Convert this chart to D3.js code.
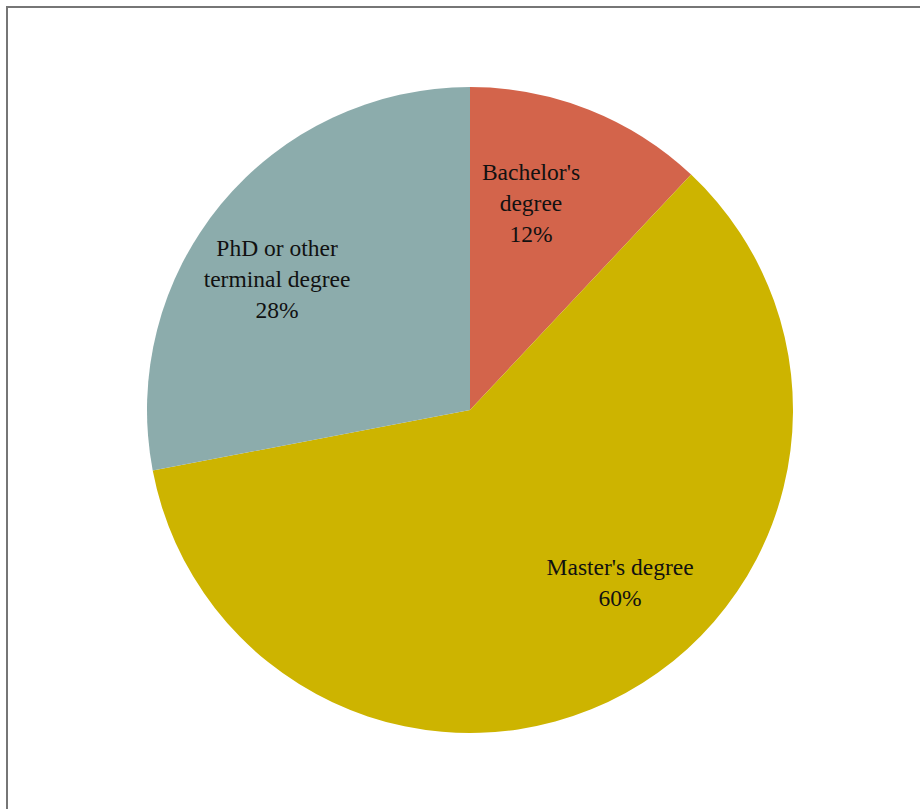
<!DOCTYPE html>
<html>
<head>
<meta charset="utf-8">
<script src="https://cdn.jsdelivr.net/npm/d3@7"></script>
<style>
  html, body { margin: 0; padding: 0; background: #fff; }
  svg { display: block; }
</style>
</head>
<body>
<svg id="chart" width="920" height="809"></svg>
<script>
// Highest degree held — share of respondents
const categories = ["Bachelor's degree", "Master's degree", "PhD or other terminal degree"];
const values = [12, 60, 28];
const colors = ["#D3644B", "#CDB400", "#8CACAC"];
// Label lines as they wrap inside each slice
const labelLines = [
  ["Bachelor's", "degree"],
  ["Master's degree"],
  ["PhD or other", "terminal degree"]
];

const W = 920, H = 809;
const cx = 470, cy = 410, R = 323;

const svg = d3.select("#chart");

// Outer frame (left and top edges are visible within the window)
svg.append("rect")
  .attr("x", 7).attr("y", 7)
  .attr("width", W + 20).attr("height", H + 20)
  .attr("fill", "none")
  .attr("stroke", "#767676")
  .attr("stroke-width", 2);

const data = categories.map((c, i) => ({ name: c, value: values[i], color: colors[i], lines: labelLines[i] }));

const pie = d3.pie().value(d => d.value).sort(null);
const arcs = pie(data);
const arc = d3.arc().innerRadius(0).outerRadius(R);

const g = svg.append("g").attr("transform", `translate(${cx},${cy})`);

g.selectAll("path.slice")
  .data(arcs)
  .join("path")
  .attr("class", "slice")
  .attr("d", arc)
  .attr("fill", d => d.data.color);

// Label anchor per slice: radius as a fraction of R, angle as a fraction through the slice
const labelRadius = [0.668, 0.707, 0.722];
const labelSweep = [0.38, 0.443, 0.446];
const fontSize = 23.5, lineH = 31;

const labels = g.selectAll("text.lbl")
  .data(arcs)
  .join("text")
  .attr("class", "lbl")
  .attr("text-anchor", "middle")
  .attr("font-family", "'Liberation Serif', 'DejaVu Serif', serif")
  .attr("font-size", fontSize)
  .attr("fill", "#111");

labels.each(function(d, i) {
  const a = d.startAngle + (d.endAngle - d.startAngle) * labelSweep[i];
  const r = R * labelRadius[i];
  const x = r * Math.sin(a), y = -r * Math.cos(a);
  const lines = d.data.lines.concat([d3.format(".0%")(d.data.value / 100)]);
  const y0 = y - (lines.length - 1) * lineH / 2;
  const t = d3.select(this);
  lines.forEach((ln, k) => {
    t.append("tspan")
      .attr("x", x)
      .attr("y", y0 + k * lineH)
      .attr("dy", "0.35em")
      .text(ln);
  });
});
</script>
</body>
</html>
